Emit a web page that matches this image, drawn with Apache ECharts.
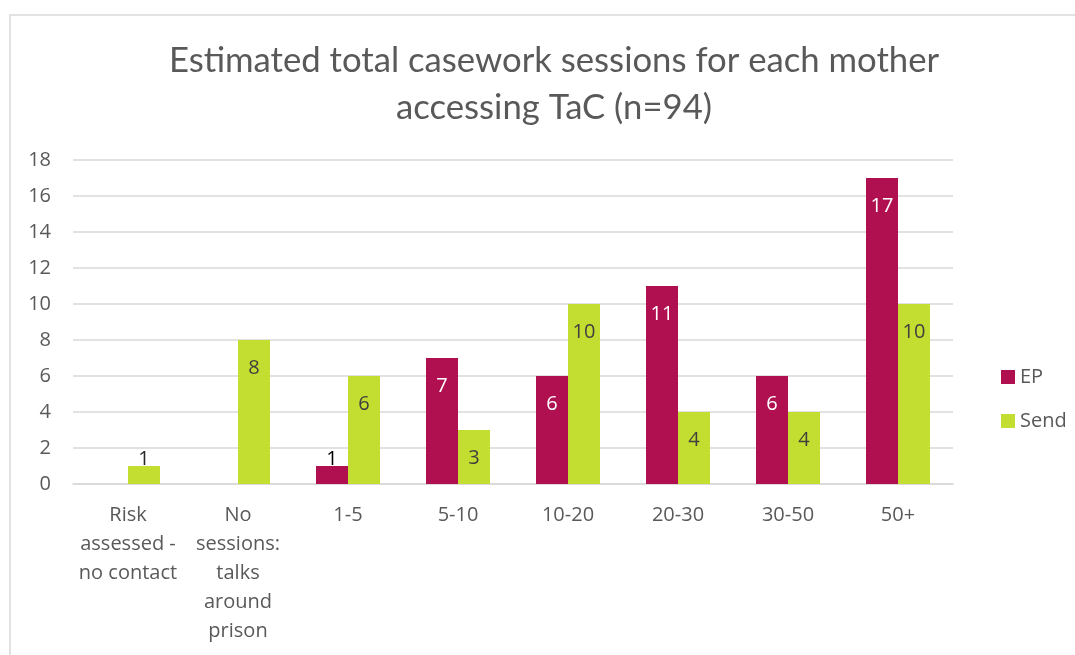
<!DOCTYPE html>
<html><head><meta charset="utf-8">
<script src="https://cdn.jsdelivr.net/npm/echarts@6/dist/echarts.min.js"></script>
<style>html,body{margin:0;padding:0;background:#fff}#c{width:1075px;height:655px}</style>
</head><body><div id="c"></div>
<script>
var categories = ["Risk\nassessed -\nno contact", "No\nsessions:\ntalks\naround\nprison", "1-5", "5-10", "10-20", "20-30", "30-50", "50+"];
var epValues = [null, null, 1, 7, 6, 11, 6, 17];
var sendValues = [1, 8, 6, 3, 10, 4, 4, 10];
var yTicks = [0, 2, 4, 6, 8, 10, 12, 14, 16, 18];

var FONT = 'Open Sans';
var TFONT = 'Lato';
function mk(vals, inColor, smallColor) {
  return vals.map(function (v) {
    if (v === null) return null;
    if (v <= 1) return { value: v, label: { position: 'top', distance: -3, color: smallColor } };
    return { value: v, label: { color: inColor } };
  });
}
var chart = echarts.init(document.getElementById('c'), null, { renderer: 'canvas' });
chart.setOption({
  animation: false,
  textStyle: { fontFamily: FONT },
  graphic: [{ type: 'rect', shape: { x: 10, y: 15, width: 1100, height: 700 }, style: { fill: 'none', stroke: '#d9d9d9', lineWidth: 1.5 } }],
  title: {
    text: 'Estimated total casework sessions for each mother\naccessing TaC (n=94)',
    left: 549, textAlign: 'center', top: 32,
    textStyle: { fontFamily: TFONT, fontSize: 34.7, fontWeight: 'normal', color: '#595959', lineHeight: 47 }
  },
  legend: {
    orient: 'vertical', left: 996, top: 362, itemWidth: 14, itemHeight: 14, itemGap: 24,
    icon: 'rect', textStyle: { fontFamily: FONT, fontSize: 20, color: '#595959' },
    data: ['EP', 'Send']
  },
  grid: { left: 73, right: 122, top: 160, bottom: 171 },
  xAxis: {
    type: 'category', data: categories,
    axisLine: { lineStyle: { color: '#d9d9d9', width: 1.5 } }, axisTick: { show: false },
    axisLabel: { interval: 0, margin: 17, fontFamily: FONT, fontSize: 20, color: '#595959', lineHeight: 29 }
  },
  yAxis: {
    type: 'value', min: yTicks[0], max: yTicks[yTicks.length - 1], interval: 2,
    axisLine: { show: false }, axisTick: { show: false },
    splitLine: { lineStyle: { color: '#d9d9d9', width: 1.5 } },
    axisLabel: { margin: 22, fontFamily: FONT, fontSize: 20, color: '#595959' }
  },
  series: [
    { name: 'EP', type: 'bar', data: mk(epValues, '#ffffff', '#000000'), barWidth: 32, barGap: '0%',
      itemStyle: { color: '#B00F50' },
      label: { show: true, position: 'insideTop', distance: 18, fontFamily: FONT, fontSize: 20 } },
    { name: 'Send', type: 'bar', data: mk(sendValues, '#404040', '#262626'), barWidth: 32, barGap: '0%',
      itemStyle: { color: '#C4DD31' },
      label: { show: true, position: 'insideTop', distance: 18, fontFamily: FONT, fontSize: 20 } }
  ]
});
</script></body></html>
